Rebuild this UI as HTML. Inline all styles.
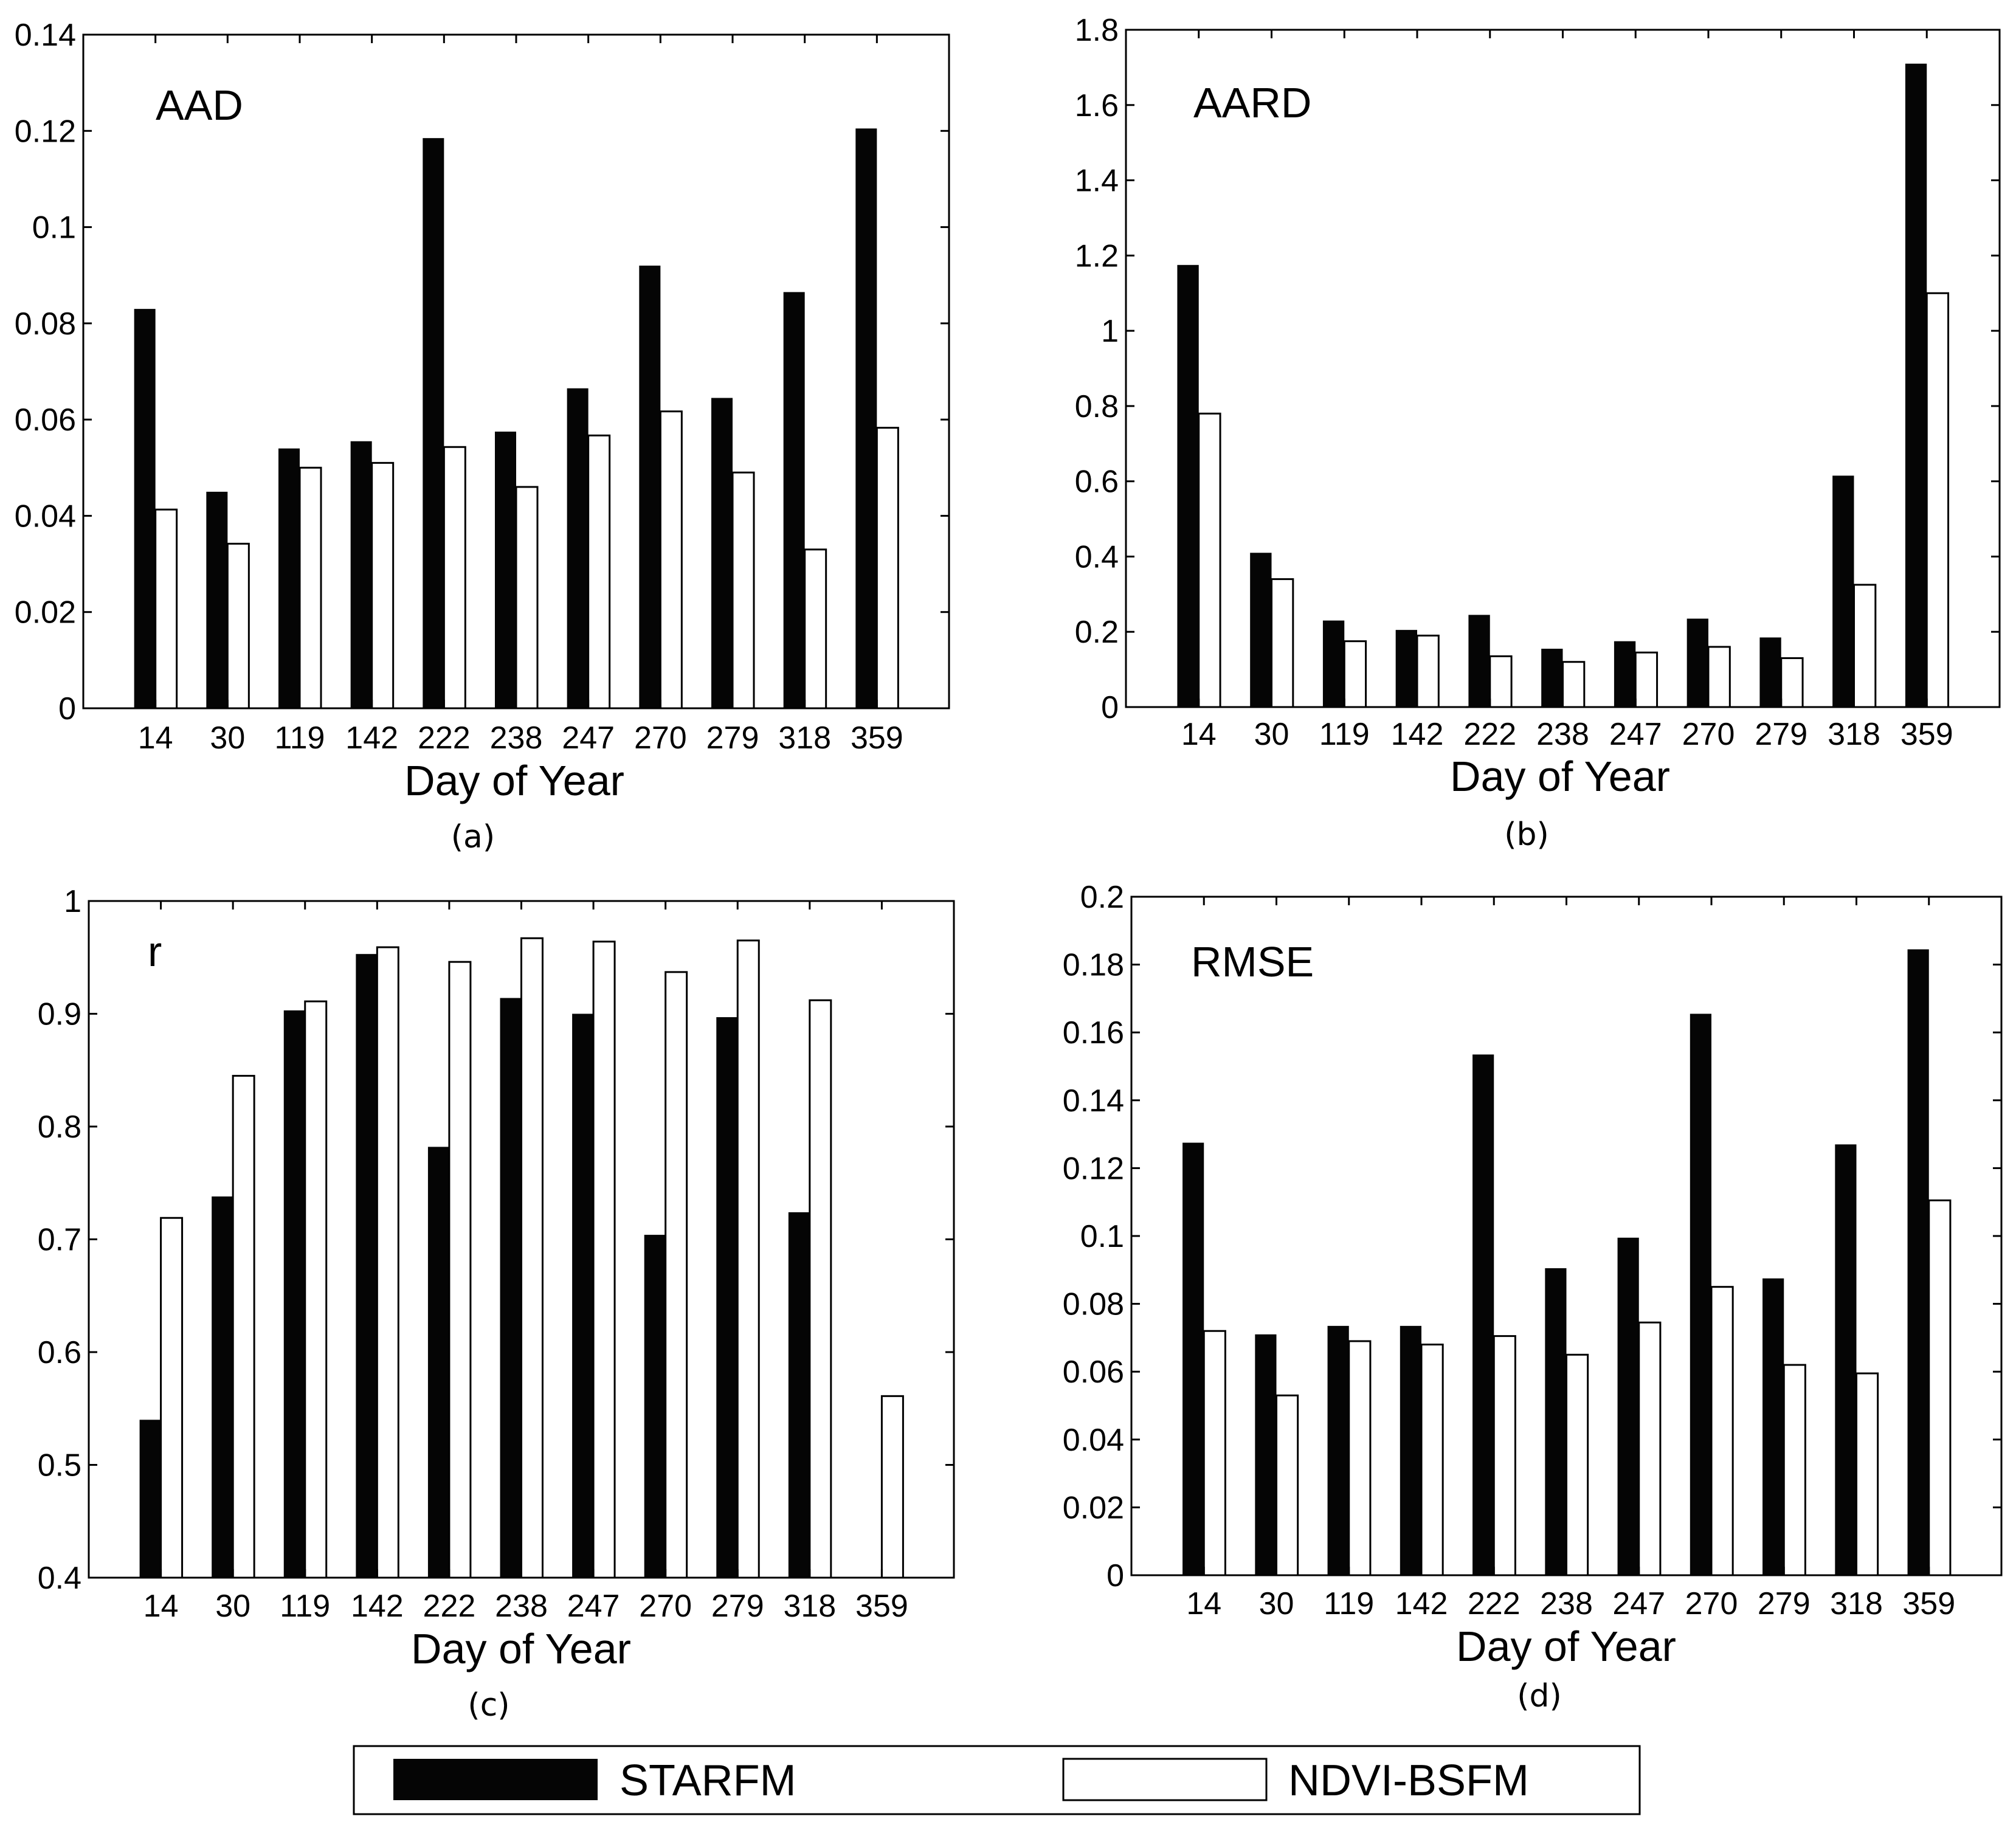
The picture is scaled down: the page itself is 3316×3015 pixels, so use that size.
<!DOCTYPE html>
<html><head><meta charset="utf-8"><style>
html,body{margin:0;padding:0;background:#fff}
svg{display:block}
text{font-family:"Liberation Sans",Arial,sans-serif;fill:#000}
.cap{font-family:"DejaVu Sans","Liberation Sans",sans-serif}
</style></head><body>
<svg id="fig" width="3316" height="3015" viewBox="0 0 3316 3015" xmlns="http://www.w3.org/2000/svg">
<g id="legend">
<rect x="582" y="2872" width="2115" height="112" fill="#fff" stroke="#000" stroke-width="3"/>
<rect x="647" y="2893" width="336" height="68" fill="#050505"/>
<text x="1019" y="2953" font-size="72">STARFM</text>
<rect x="1749" y="2893" width="334" height="68" fill="#fff" stroke="#000" stroke-width="3"/>
<text x="2119" y="2953" font-size="72">NDVI-BSFM</text>
</g>
</svg>
<script>
const categories = ["14","30","119","142","222","238","247","270","279","318","359"];
const aadStarfm = [0.083,0.045,0.054,0.0555,0.1185,0.0575,0.0665,0.092,0.0645,0.0865,0.1205];
const aadNdvi = [0.0413,0.0342,0.050,0.051,0.0543,0.046,0.0567,0.0617,0.049,0.033,0.0583];
const aardStarfm = [1.175,0.41,0.23,0.205,0.245,0.155,0.175,0.235,0.185,0.615,1.71];
const aardNdvi = [0.78,0.34,0.175,0.19,0.135,0.12,0.145,0.16,0.13,0.325,1.1];
const rStarfm = [0.54,0.738,0.903,0.953,0.782,0.914,0.900,0.704,0.897,0.724,null];
const rNdvi = [0.719,0.845,0.911,0.959,0.946,0.967,0.964,0.937,0.965,0.912,0.561];
const rmseStarfm = [0.1275,0.071,0.0735,0.0735,0.1535,0.0905,0.0995,0.1655,0.0875,0.127,0.1845];
const rmseNdvi = [0.072,0.053,0.069,0.068,0.0705,0.065,0.0745,0.085,0.062,0.0595,0.1105];
const aadTicks = ["0","0.02","0.04","0.06","0.08","0.1","0.12","0.14"];
const aardTicks = ["0","0.2","0.4","0.6","0.8","1","1.2","1.4","1.6","1.8"];
const rTicks = ["0.4","0.5","0.6","0.7","0.8","0.9","1"];
const rmseTicks = ["0","0.02","0.04","0.06","0.08","0.1","0.12","0.14","0.16","0.18","0.2"];

const NS="http://www.w3.org/2000/svg";
const svg=document.getElementById('fig');
function mk(tag,attrs,parent){const e=document.createElementNS(NS,tag);for(const k in attrs)e.setAttribute(k,attrs[k]);parent.appendChild(e);return e;}

const panels=[
 {id:'aad',label:'AAD',cap:'(a)',x0:137,x1:1561,y0:57,y1:1165,s:aadStarfm,n:aadNdvi,ticks:aadTicks,lx:256,ly:197,tickY:1231,titleX:846,titleY:1308,capX:778,capY:1394},
 {id:'aard',label:'AARD',cap:'(b)',x0:1852,x1:3289,y0:49,y1:1163,s:aardStarfm,n:aardNdvi,ticks:aardTicks,lx:1963,ly:193,tickY:1225,titleX:2566,titleY:1301,capX:2511,capY:1390},
 {id:'r',label:'r',cap:'(c)',x0:146,x1:1569,y0:1482,y1:2595,s:rStarfm,n:rNdvi,ticks:rTicks,lx:243,ly:1589,tickY:2659,titleX:857,titleY:2736,capX:804,capY:2822},
 {id:'rmse',label:'RMSE',cap:'(d)',x0:1861,x1:3292,y0:1475,y1:2591,s:rmseStarfm,n:rmseNdvi,ticks:rmseTicks,lx:1959,ly:1606,tickY:2655,titleX:2576,titleY:2732,capX:2532,capY:2807}
];
panels.forEach(p=>{
 const g=mk('g',{},svg);
 
 
 const vmin=parseFloat(p.ticks[0]), vmax=parseFloat(p.ticks[p.ticks.length-1]);
 const yS=v=>p.y1-(v-vmin)/(vmax-vmin)*(p.y1-p.y0);
 const slot=(p.x1-p.x0)/(categories.length+1);
 const xS=i=>p.x0+slot*(i+1);
 const bw=slot*0.295;
 categories.forEach((c,i)=>{
  if(p.s[i]!=null && p.s[i]>vmin){
   const r=mk('rect',{x:xS(i)-bw,y:yS(p.s[i]),width:bw,height:p.y1-yS(p.s[i]),fill:'#050505'},g);
   
   
  }
  if(p.n[i]!=null && p.n[i]>vmin){
   const r=mk('rect',{x:xS(i),y:yS(p.n[i]),width:bw,height:p.y1-yS(p.n[i]),fill:'#fff',stroke:'#000','stroke-width':3},g);
   
   
  }
 });
 const frame=mk('rect',{x:p.x0,y:p.y0,width:p.x1-p.x0,height:p.y1-p.y0,fill:'none',stroke:'#000','stroke-width':3},g);
 
 
 const TL=14;
 p.ticks.forEach(t=>{
  const y=yS(parseFloat(t));
  mk('line',{x1:p.x0,x2:p.x0+TL,y1:y,y2:y,stroke:'#000','stroke-width':3},g);
  mk('line',{x1:p.x1,x2:p.x1-TL,y1:y,y2:y,stroke:'#000','stroke-width':3},g);
  const tx=mk('text',{x:p.x0-12,y:y+18,'font-size':52,'text-anchor':'end'},g);
  tx.textContent=t;
  
  
 });
 categories.forEach((c,i)=>{
  const x=xS(i);
  mk('line',{x1:x,x2:x,y1:p.y1,y2:p.y1-TL,stroke:'#000','stroke-width':3},g);
  mk('line',{x1:x,x2:x,y1:p.y0,y2:p.y0+TL,stroke:'#000','stroke-width':3},g);
  const tx=mk('text',{x:x,y:p.tickY,'font-size':52,'text-anchor':'middle'},g);
  tx.textContent=c;
  
  
 });
 const lb=mk('text',{x:p.lx,y:p.ly,'font-size':70},g);
 lb.textContent=p.label;
 
 
 const tt=mk('text',{x:p.titleX,y:p.titleY,'font-size':70,'text-anchor':'middle'},g);
 tt.textContent='Day of Year';
 
 
 const cp=mk('text',{x:p.capX,y:p.capY,'font-size':52,'text-anchor':'middle','class':'cap'},g);
 cp.textContent=p.cap;
 
 
});
</script>
</body></html>
